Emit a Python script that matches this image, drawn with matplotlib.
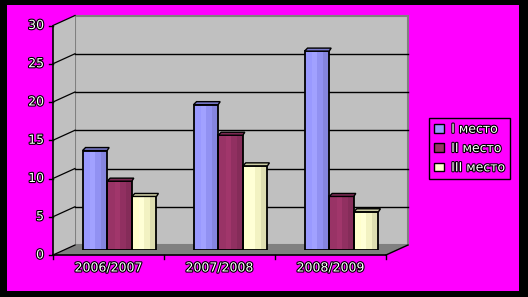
import numpy as np
import matplotlib.pyplot as plt
import matplotlib.patheffects as pe
from matplotlib.patches import Rectangle, Polygon
from matplotlib.transforms import IdentityTransform
from matplotlib.colors import to_rgb

seasons = ['2006/2007', '2007/2008', '2008/2009']
series_names = ['I место', 'II место', 'III место']
first = [13, 19, 26]
second = [9, 15, 7]
third = [7, 11, 5]
yticks = [0, 5, 10, 15, 20, 25, 30]

colors = ['#9999FF', '#993366', '#FFFFCC']

W, H = 528, 297
fig = plt.figure(figsize=(W / 100, H / 100), dpi=100, facecolor='black')
fig.patches.append(Rectangle((7 / W, 6 / H), 512 / W, 286 / H, transform=fig.transFigure,
                             facecolor='#FF00FF', edgecolor='none', zorder=-10))

ax = fig.add_axes([64 / W, 47 / H, 333 / W, 229.5 / H])
ax.set_xlim(-0.5, 2.5)
ax.set_ylim(0, 30)
ax.axis('off')

DX, DY = 11, 5   # half depth, pixels
ident = IdentityTransform()
txt_fx = [pe.withStroke(linewidth=1.6, foreground='black')]
FS = 9


def pt(x, y, d=0):
    px, py = ax.transData.transform((x, y))
    return (px + d * DX, py + d * DY)


def poly(pts, **kw):
    p = Polygon(pts, transform=ident, clip_on=False, **kw)
    ax.add_patch(p)


def line(p0, p1, **kw):
    ax.plot([p0[0], p1[0]], [p0[1], p1[1]], transform=ident, clip_on=False, **kw)


# walls and floor
poly([pt(-0.5, 0, 1), pt(2.5, 0, 1), pt(2.5, 30, 1), pt(-0.5, 30, 1)],
     facecolor='#C0C0C0', edgecolor='#808080', lw=1.5, zorder=0)
poly([pt(-0.5, 0, -1), pt(-0.5, 0, 1), pt(-0.5, 30, 1), pt(-0.5, 30, -1)],
     facecolor='#C0C0C0', edgecolor='none', zorder=0)
poly([pt(-0.5, 0, -1), pt(2.5, 0, -1), pt(2.5, 0, 1), pt(-0.5, 0, 1)],
     facecolor='#808080', edgecolor='none', zorder=0.5)
line(pt(2.5, 0, -1), pt(2.5, 0, 1), color='black', lw=1, zorder=0.6)

for t in yticks:
    if 0 < t < 30:
        line(pt(-0.5, t, 1), pt(2.5, t, 1), color='black', lw=1, zorder=1)
    line(pt(-0.5, t, -1), pt(-0.5, t, 1), color='black', lw=0.9, zorder=1)
    x0, y0 = pt(-0.5, t, -1)
    line((x0 - 4, y0), (x0, y0), color='black', lw=1, zorder=1)
    ax.text(x0 - 9, y0, str(t), transform=ident, ha='right', va='center',
            fontsize=FS, color='white', path_effects=txt_fx)

line(pt(-0.5, 0, -1), pt(-0.5, 30, -1), color='black', lw=1.2, zorder=1.2)
line(pt(-0.5, 0, -1), pt(2.5, 0, -1), color='black', lw=1.2, zorder=1.2)
for b in np.arange(-0.5, 3.0, 1.0):
    x0, y0 = pt(b, 0, -1)
    line((x0, y0), (x0, y0 - 4), color='black', lw=1, zorder=1.2)
for i, s in enumerate(seasons):
    x0, y0 = pt(i, 0, -1)
    ax.text(x0, y0 - 13, s, transform=ident, ha='center', va='center',
            fontsize=FS, color='white', path_effects=txt_fx)

# bars with cylinder-like shading
x = np.arange(len(seasons))
bw = 0.222
stripes = [(0.0, 0.3, 1.0), (0.3, 0.5, 1.05), (0.5, 0.75, 0.95), (0.75, 1.0, 0.87)]
handles = []
for k, (vals, col) in enumerate(zip([first, second, third], colors)):
    xs = x + (k - 1) * bw - bw / 2
    base = np.array(to_rgb(col))
    for a, b, f in stripes:
        ax.bar(xs + a * bw, vals, width=(b - a) * bw, align='edge',
               color=np.clip(base * f, 0, 1), edgecolor='none', zorder=2 + k * 0.01)
    ax.bar(xs, vals, width=bw, align='edge', fill=False,
           edgecolor='black', lw=1.3, zorder=2.1 + k * 0.01)
    handles.append(Rectangle((0, 0), 1, 1, facecolor=col, edgecolor='black', lw=1))
    for xi, v in zip(xs, vals):
        p0 = pt(xi, v)
        p1 = pt(xi + bw, v)
        poly([p0, p1, (p1[0] + 2, p1[1] + 3), (p0[0] + 3, p0[1] + 3)],
             facecolor=np.clip(base * 0.8, 0, 1), edgecolor='black', lw=1, zorder=3 + k * 0.01)

leg = fig.legend(handles, series_names, loc='center',
                 bbox_to_anchor=(469.5 / W, (H - 148.5) / H), frameon=True,
                 facecolor='#FF00FF', edgecolor='black', framealpha=1, fancybox=False,
                 fontsize=FS, handlelength=0.8, handleheight=0.7, handletextpad=0.6,
                 labelspacing=0.5, borderpad=0.4, borderaxespad=0)
leg.get_frame().set_linewidth(1)
for tx in leg.get_texts():
    tx.set_color('white')
    tx.set_path_effects(txt_fx)

fig.savefig('out.png', dpi=100, facecolor='black')
